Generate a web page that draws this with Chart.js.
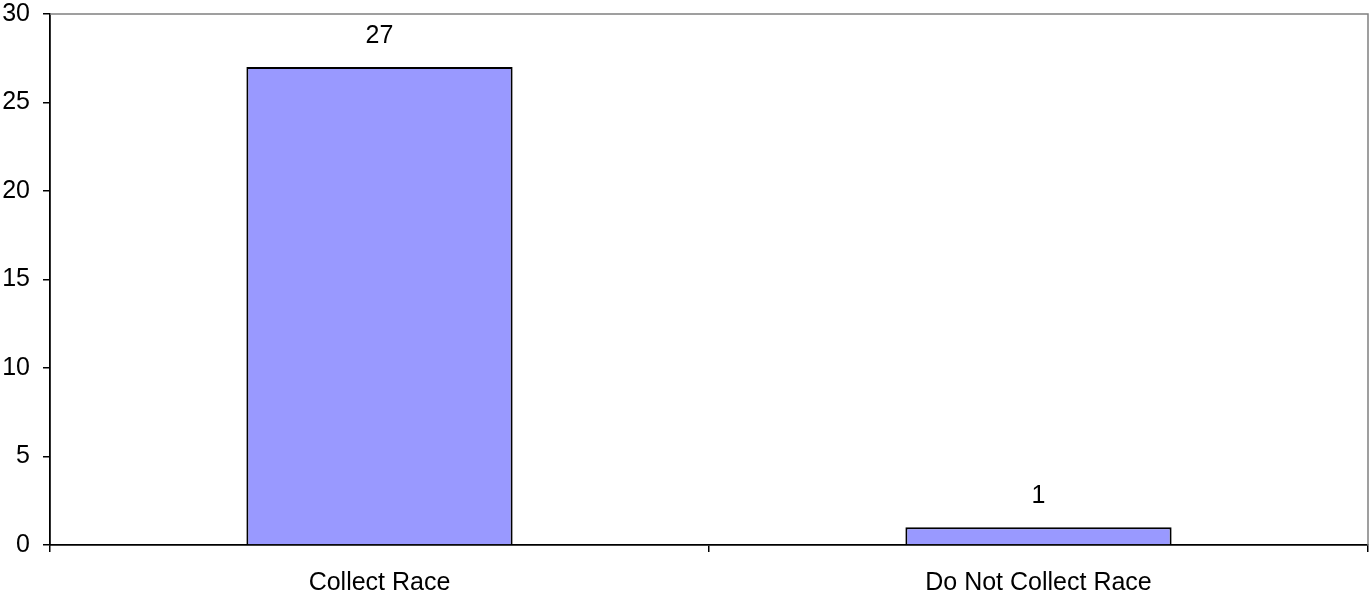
<!DOCTYPE html>
<html>
<head>
<meta charset="utf-8">
<script src="https://cdn.jsdelivr.net/npm/chart.js@4/dist/chart.umd.min.js"></script>
<style>
  html, body { margin: 0; padding: 0; background: #fff; }
  #wrap { width: 1369px; height: 595px; position: relative; }
</style>
</head>
<body>
<div id="wrap"><canvas id="c"></canvas></div>
<script>
const categories = ['Collect Race', 'Do Not Collect Race'];
const counts = [27, 1];
const yTicks = [0, 5, 10, 15, 20, 25, 30];

const FONT = "'Liberation Sans', Arial, sans-serif";
const FONT_SIZE = 25;

// Gray frame on the top and right sides of the plot area
const frame = {
  id: 'frame',
  beforeDatasetsDraw(chart) {
    const { ctx, chartArea: a } = chart;
    ctx.save();
    ctx.strokeStyle = '#808080';
    ctx.lineWidth = 1.5;
    ctx.beginPath();
    ctx.moveTo(a.left, a.top);
    ctx.lineTo(a.right, a.top);
    ctx.lineTo(a.right, a.bottom);
    ctx.stroke();
    ctx.restore();
  }
};

// Value written above each bar
const valueLabels = {
  id: 'valueLabels',
  afterDatasetsDraw(chart) {
    const { ctx } = chart;
    const meta = chart.getDatasetMeta(0);
    ctx.save();
    ctx.fillStyle = '#000';
    ctx.font = FONT_SIZE + 'px ' + FONT;
    ctx.textAlign = 'center';
    ctx.textBaseline = 'middle';
    meta.data.forEach((bar, i) => {
      ctx.fillText(String(counts[i]), bar.x, bar.y - 31);
    });
    ctx.restore();
  }
};

new Chart(document.getElementById('c'), {
  type: 'bar',
  data: {
    labels: categories,
    datasets: [{
      data: counts,
      backgroundColor: '#9999FF',
      borderColor: '#000',
      borderWidth: 2,
      categoryPercentage: 1,
      barPercentage: 0.404
    }]
  },
  options: {
    responsive: true,
    maintainAspectRatio: false,
    animation: false,
    layout: { padding: { top: 14, right: 1, left: 0, bottom: 0 } },
    plugins: { legend: { display: false }, tooltip: { enabled: false } },
    scales: {
      x: {
        offset: true,
        grid: {
          offset: true,
          drawOnChartArea: false,
          drawTicks: true,
          tickLength: 7,
          color: '#000',
          lineWidth: 1.5
        },
        border: { color: '#000', width: 1.8 },
        ticks: {
          color: '#000',
          font: { size: FONT_SIZE, family: FONT },
          padding: 16,
          maxRotation: 0
        },
        afterFit(s) {
          s.height = 50;
          s.paddingLeft = 0;
          s.paddingRight = 0;
        }
      },
      y: {
        min: 0,
        max: 30,
        afterBuildTicks(s) { s.ticks = yTicks.map(v => ({ value: v })); },
        grid: {
          drawOnChartArea: false,
          tickLength: 7,
          color: '#000',
          lineWidth: 1.5
        },
        border: { color: '#000', width: 1.8 },
        ticks: {
          color: '#000',
          font: { size: FONT_SIZE, family: FONT },
          padding: 13
        },
        afterFit(s) {
          s.width = 50;
          s.paddingTop = 0;
          s.paddingBottom = 0;
        }
      }
    }
  },
  plugins: [frame, valueLabels]
});
</script>
</body>
</html>
